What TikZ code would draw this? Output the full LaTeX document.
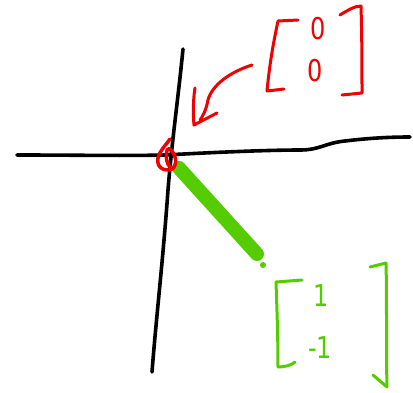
\documentclass[tikz,border=0pt]{standalone}
\usepackage{fontspec}
\setmainfont{DejaVu Sans}
\definecolor{pred}{RGB}{240,0,0}
\definecolor{pgreen}{RGB}{85,204,0}
\tikzset{
  axis/.style={black,line width=3.6pt,line cap=round,line join=round},
  redpen/.style={pred,line width=3pt,line cap=round,line join=round},
  greenpen/.style={pgreen,line width=3pt,line cap=round,line join=round},
  hand/.style={inner sep=0pt,font=\fontsize{24}{24}\selectfont,yscale=1.25}
}
\begin{document}
\begin{tikzpicture}[x=1pt,y=-1pt]
\useasboundingbox (0,0) rectangle (413,392);
% axes
\draw[axis] (17,155) .. controls (80,155) and (120,156) .. (165,155)
  .. controls (220,152) and (270,150) .. (300,150)
  .. controls (320,150) and (325,143) .. (345,141)
  .. controls (370,138) and (390,137) .. (410,137);
\draw[axis] (183,49) .. controls (178,100) and (172,140) .. (168,190)
  .. controls (163,260) and (156,320) .. (152,372);
\coordinate (O) at (167,157);
% green vector
\draw[pgreen,line width=14pt,line cap=round] (179,168) -- (257,254);
\fill[pgreen] (263,265) circle (3pt);
% red origin scribble
\draw[redpen,line width=3.5pt] (170,139) .. controls (166,145) and (160,150) .. (158,158)
  .. controls (156,168) and (165,172) .. (172,169)
  .. controls (178,165) and (176,154) .. (170,149)
  .. controls (165,146) and (164,166) .. (173,169);
% red arrow
\draw[redpen] (252,65) .. controls (230,72) and (212,85) .. (208,100)
  .. controls (206,110) and (203,116) .. (200,120);
\draw[redpen] (195,88) .. controls (193,100) and (193,115) .. (194,125) -- (217,113);
% red matrix
\draw[redpen] (298,20) -- (278,21) .. controls (274,40) and (270,60) .. (267,91) -- (284,89);
\draw[redpen] (340,15) .. controls (348,10) and (355,6) .. (361,6)
  .. controls (362,40) and (362,70) .. (362,93) -- (342,95);
\node[hand,text=pred] (r1) at (318,29) {0};
\node[hand,text=pred] (r2) at (315,71) {0};
% green matrix
\draw[greenpen] (302,280) -- (276,282) .. controls (277,310) and (278,340) .. (278,367)
  .. controls (285,367) and (292,365) .. (295,362);
\draw[greenpen] (370,267) -- (386,263) .. controls (387,300) and (386,350) .. (387,387)
  -- (373,375);
\node[hand,text=pgreen] (g1) at (321,296) {1};
\node[hand,text=pgreen] (g2) at (320,348) {-1};
\end{tikzpicture}
\end{document}
